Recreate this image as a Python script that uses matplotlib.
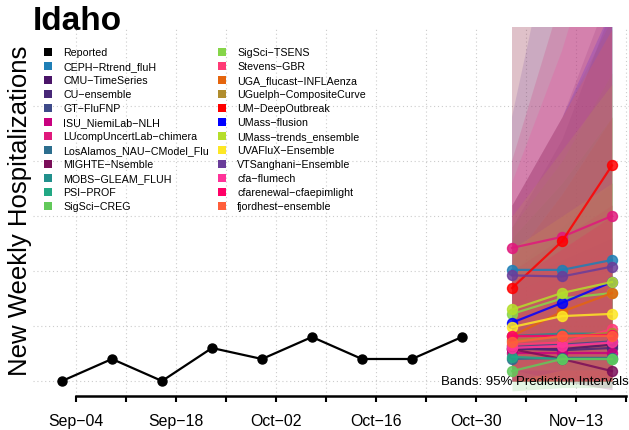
import numpy as np
import pandas as pd
import matplotlib
matplotlib.use("Agg")
import matplotlib.pyplot as plt
import matplotlib.dates as mdates
from matplotlib.patches import Rectangle

plt.rcParams['font.family'] = ['Liberation Sans', 'DejaVu Sans']

# Reported weekly hospitalizations
reported_dates = pd.date_range("2023-09-02", "2023-10-28", freq="7D")
reported_values = [0, 2, 0, 3, 2, 4, 2, 2, 4]

# Forecast target dates
forecast_dates = pd.to_datetime(["2023-11-04", "2023-11-11", "2023-11-18"])

models = [
    "CEPH-Rtrend_fluH", "CMU-TimeSeries", "CU-ensemble", "GT-FluFNP",
    "ISU_NiemiLab-NLH", "LUcompUncertLab-chimera", "LosAlamos_NAU-CModel_Flu",
    "MIGHTE-Nsemble", "MOBS-GLEAM_FLUH", "PSI-PROF", "SigSci-CREG",
    "SigSci-TSENS", "Stevens-GBR", "UGA_flucast-INFLAenza",
    "UGuelph-CompositeCurve", "UM-DeepOutbreak", "UMass-flusion",
    "UMass-trends_ensemble", "UVAFluX-Ensemble", "VTSanghani-Ensemble",
    "cfa-flumech", "cfarenewal-cfaepimlight", "fjordhest-ensemble",
]

colors = [
    "#1f7fb6", "#4a1468", "#482878", "#3e4a89",
    "#c8007f", "#e0197c", "#2c6e8e",
    "#7a0e59", "#21908c", "#22a884", "#62c95a",
    "#86d549", "#ff3a76", "#e5650d",
    "#b08d2e", "#ff0000", "#0000ff",
    "#b5de2b", "#fde725", "#6a3d9a",
    "#ff3399", "#ff0066", "#ff5e3a",
]

# median forecasts (3 horizons per model)
medians = [
    [10.1, 10.1, 11.0], [2.9, 2.9, 3.3], [3.0, 2.8, 3.0], [3.2, 3.3, 3.6],
    [2.5, 2.5, 2.5], [12.1, 13.1, 15.0], [2.0, 2.1, 2.1],
    [2.9, 2.0, 0.9], [4.1, 4.3, 4.3], [2.2, 2.0, 2.0], [0.9, 2.0, 2.0],
    [6.1, 7.5, 8.0], [3.3, 3.5, 4.7], [4.1, 6.3, 8.0],
    [3.7, 4.0, 4.4], [8.45, 12.7, 19.6], [5.3, 7.1, 9.0],
    [6.5, 8.0, 9.0], [4.9, 5.9, 6.1], [9.6, 9.5, 10.4],
    [3.0, 3.2, 3.5], [4.1, 4.1, 4.2], [3.5, 4.1, 4.1],
]

# 95% prediction interval bounds
lower = [
    [2, 1, 1], [0, 0, 0], [0, 0, 0], [0, 0, 0],
    [0, 0, 0], [4, 3, 3], [0, 0, 0],
    [0, 0, -0.8], [0, 0, 0], [0, 0, 0], [-0.9, -0.6, -0.6],
    [1, 1, 1], [0, 0, 0], [0, 0, 0],
    [0, 0, 0], [1, 2, 3], [0, 1, 1],
    [1, 1, 1], [0, 0, 0], [1, 0, 0],
    [0, 0, 0], [0, 0, 0], [0, 0, 0],
]
upper = [
    [34, 45, 55], [10, 13, 16], [16, 24, 36], [14, 22, 34],
    [8, 10, 12], [20, 35, 55], [10, 14, 18],
    [9, 11, 13], [12, 15, 18], [7, 9, 10], [13, 18, 24],
    [14, 20, 28], [10, 13, 16], [11, 17, 24],
    [16, 24, 33], [33, 45, 60], [16, 24, 34],
    [15, 21, 27], [12, 15, 18], [24, 45, 80],
    [18, 30, 45], [9, 12, 15], [16, 24, 32],
]

W, H = 629, 431
fig = plt.figure(figsize=(W / 100, H / 100), dpi=100)
ax = fig.add_axes([33 / W, (H - 397) / H, (W - 33) / W, (397 - 28) / H])

# grid
week_ticks = pd.date_range("2023-09-04", "2023-11-20", freq="7D")
for d in week_ticks:
    ax.axvline(d, color="#cccccc", lw=0.8, ls=(0, (1, 2.5)), zorder=0)
for yv in range(0, 30, 5):
    ax.axhline(yv, color="#cccccc", lw=0.8, ls=(0, (1, 2.5)), zorder=0)

# prediction bands
for i in range(len(models)):
    ax.fill_between(forecast_dates, lower[i], upper[i], color=colors[i],
                    alpha=0.17, lw=0, zorder=1)

# forecast medians
for i in range(len(models)):
    ax.plot(forecast_dates, medians[i], color=colors[i], lw=1.6, marker="o",
            ms=7.2, alpha=0.85, zorder=3)

# reported
ax.plot(reported_dates, reported_values, color="black", lw=1.6, marker="o",
        ms=6.5, zorder=4)

ax.set_xlim(reported_dates[0] - pd.Timedelta(days=4.06),
            forecast_dates[-1] + pd.Timedelta(days=2.38))
ax.set_ylim(-1.364, 32.18)

ax.set_xticks(week_ticks)
ax.set_xticklabels([d.strftime("%b-%d").replace("-", "\u2212") if k % 2 == 0 else ""
                    for k, d in enumerate(week_ticks)], fontsize=11.4)
ax.tick_params(axis="x", length=4, width=1.5, pad=8)
ax.set_yticks([])
for s in ["top", "right", "left"]:
    ax.spines[s].set_visible(False)
ax.spines["bottom"].set_linewidth(1.8)
ax.spines["bottom"].set_bounds(mdates.date2num(week_ticks[0]),
                               mdates.date2num(week_ticks[-1]))
ax.patch.set_alpha(0)

ax.text(1.0, (0 - (-1.364)) / (32.18 + 1.364), "Bands: 95% Prediction Intervals",
        transform=ax.transAxes, ha="right", va="center", fontsize=9.5, zorder=6)

# legend
legend_names = ["Reported"] + models
legend_colors = ["black"] + colors
for k, (name, col) in enumerate(zip(legend_names, legend_colors)):
    c, r = divmod(k, 12)
    xs = [44, 218][c]
    yc = 53 + 14 * r
    fig.patches.append(Rectangle((xs / W, (H - yc - 4) / H), 8 / W, 8 / H,
                                 transform=fig.transFigure, color=col, lw=0))
    fig.text((xs + 19) / W, (H - yc) / H, name.replace("-", "\u2212"),
             fontsize=7.7, ha="left", va="center")

fig.text(33 / W, (H - 30) / H, "Idaho", fontsize=24, fontweight="bold",
         ha="left", va="baseline")
fig.text(20 / W, (H - 211) / H, "New Weekly Hospitalizations", fontsize=18.5,
         rotation=90, ha="center", va="center")

fig.savefig("out.png", dpi=100)
